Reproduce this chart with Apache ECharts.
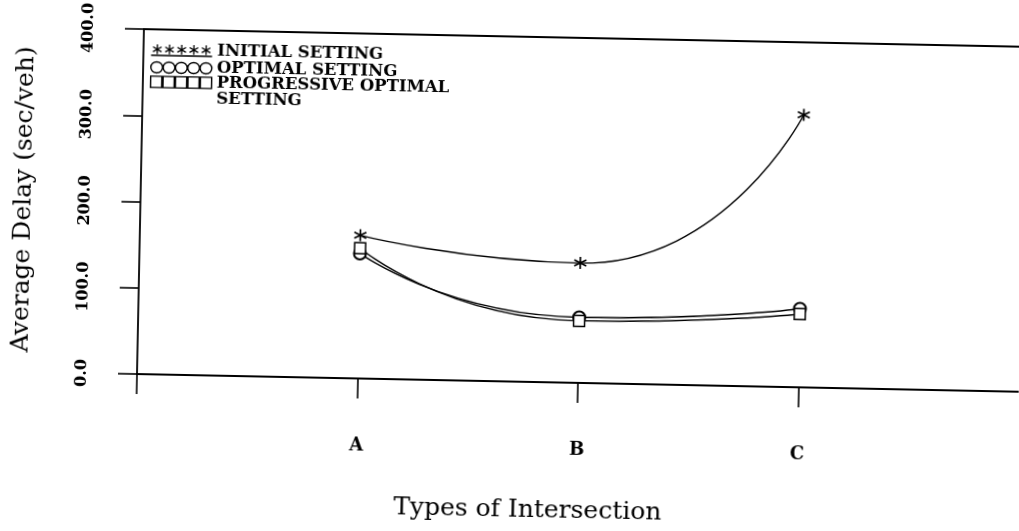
<!DOCTYPE html>
<html><head><meta charset="utf-8">
<script src="https://cdn.jsdelivr.net/npm/echarts@6/dist/echarts.min.js"></script>
<style>
html,body{margin:0;padding:0;background:#fff;overflow:hidden}
#main{width:1019px;height:531px;transform:rotate(1.15deg);transform-origin:135px 374px;}
</style></head><body><div id="main"></div>
<script>
const categories = ['A', 'B', 'C'];
const yTickValues = [0, 100, 200, 300, 400];
const initialSetting = [166, 139, 316];
const optimalSetting = [145, 76, 91];
const progressiveSetting = [151, 72, 85];
const seriesNames = ['INITIAL SETTING', 'OPTIMAL SETTING', 'PROGRESSIVE OPTIMAL SETTING'];
const xAxisTitle = 'Types of Intersection';
const yAxisTitle = 'Average Delay (sec/veh)';

const FONT = 'DejaVu Serif';
const starSym = 'path://M10,0 L10,20 M1.3,5 L18.7,15 M1.3,15 L18.7,5';
const squareSym = 'path://M0,0 L20,0 L20,20 L0,20 Z';

function rowIcon(kind) {
  let d = '';
  for (let i = 0; i < 5; i++) {
    const cx = i * 20 + 10;
    if (kind === 'star') d += `M${cx},1 L${cx},17 M${cx-7},5 L${cx+7},13 M${cx-7},13 L${cx+7},5 `;
    else if (kind === 'circle') d += `M${cx-9.5},10 A9.5,9 0 1,0 ${cx+9.5},10 A9.5,9 0 1,0 ${cx-9.5},10 Z `;
    else d += `M${cx-9},1 L${cx+9},1 L${cx+9},19 L${cx-9},19 Z `;
  }
  if (kind === 'star') d += 'M0,19 L100,19';
  return 'path://' + d;
}

const toPts = arr => arr.map((v, i) => [i + 1, v]);
const lineStyle = { color: '#000', width: 1.4 };
const legendText = { fontFamily: FONT, fontWeight: 'bold', fontSize: 16.5, color: '#000', lineHeight: 16 };
const legendBase = { orient: 'vertical', left: 144, padding: 0, itemWidth: 61, itemHeight: 12, itemGap: 0.5, textStyle: legendText };

const chart = echarts.init(document.getElementById('main'), null, { renderer: 'canvas' });
chart.setOption({
  backgroundColor: '#fff',
  animation: false,
  textStyle: { fontFamily: FONT, color: '#000' },
  grid: { left: 135, top: 29, width: 888, height: 345, containLabel: false },
  legend: [
    Object.assign({}, legendBase, {
      top: 41,
      data: [
        { name: seriesNames[0], icon: rowIcon('star'), itemStyle: { color: '#000', borderColor: '#000', borderWidth: 1.3 } },
        { name: seriesNames[1], icon: rowIcon('circle'), itemStyle: { color: '#fff', borderColor: '#000', borderWidth: 1.4 } }
      ]
    }),
    Object.assign({}, legendBase, {
      top: 57,
      formatter: n => '\nPROGRESSIVE OPTIMAL\nSETTING',
      data: [
        { name: seriesNames[2], icon: rowIcon('square'), itemStyle: { color: '#fff', borderColor: '#000', borderWidth: 1.4 } }
      ]
    })
  ],
  xAxis: [{
    type: 'value', min: 0, max: 4, interval: 1, position: 'bottom',
    axisLine: { show: true, onZero: false, lineStyle: { color: '#000', width: 1.8 } },
    axisTick: { show: true, length: 20, customValues: [0, 1, 2, 3], lineStyle: { color: '#000', width: 1.6 } },
    splitLine: { show: false },
    axisLabel: {
      margin: 58, fontFamily: FONT, fontWeight: 'bold', fontSize: 18, color: '#000',
      customValues: [1, 2, 3],
      formatter: v => categories[v - 1] || ''
    },
    name: xAxisTitle, nameLocation: 'middle', nameGap: 116,
    nameTextStyle: { fontFamily: FONT, fontSize: 25, color: '#000', padding: [0, 96, 0, 0] }
  }, {
    type: 'value', min: 0, max: 4, position: 'top',
    axisLine: { show: true, onZero: false, lineStyle: { color: '#000', width: 1.8 } },
    axisTick: { show: false }, axisLabel: { show: false }, splitLine: { show: false }
  }],
  yAxis: {
    type: 'value', min: yTickValues[0], max: yTickValues[yTickValues.length - 1], interval: 100,
    axisLine: { show: true, lineStyle: { color: '#000', width: 1.8 } },
    axisTick: { show: true, length: 19, lineStyle: { color: '#000', width: 1.6 } },
    splitLine: { show: false },
    axisLabel: {
      rotate: 90, margin: 47, fontFamily: FONT, fontWeight: 'bold', fontSize: 16, color: '#000',
      formatter: v => v.toFixed(1)
    },
    name: yAxisTitle, nameLocation: 'middle', nameGap: 104,
    nameTextStyle: { fontFamily: FONT, fontSize: 25, color: '#000' }
  },
  series: [
    { name: seriesNames[0], type: 'line', smooth: 0.6, data: toPts(initialSetting),
      symbol: starSym, symbolSize: 12, lineStyle,
      itemStyle: { color: '#000', borderColor: '#000', borderWidth: 1.7 } },
    { name: seriesNames[1], type: 'line', smooth: 0.6, data: toPts(optimalSetting),
      symbol: 'emptyCircle', symbolSize: 12, lineStyle,
      itemStyle: { color: '#000', borderColor: '#000', borderWidth: 1.5 } },
    { name: seriesNames[2], type: 'line', smooth: 0.6, data: toPts(progressiveSetting),
      symbol: squareSym, symbolSize: 11, lineStyle,
      itemStyle: { color: '#fff', borderColor: '#000', borderWidth: 1.5 } }
  ]
});
</script></body></html>
